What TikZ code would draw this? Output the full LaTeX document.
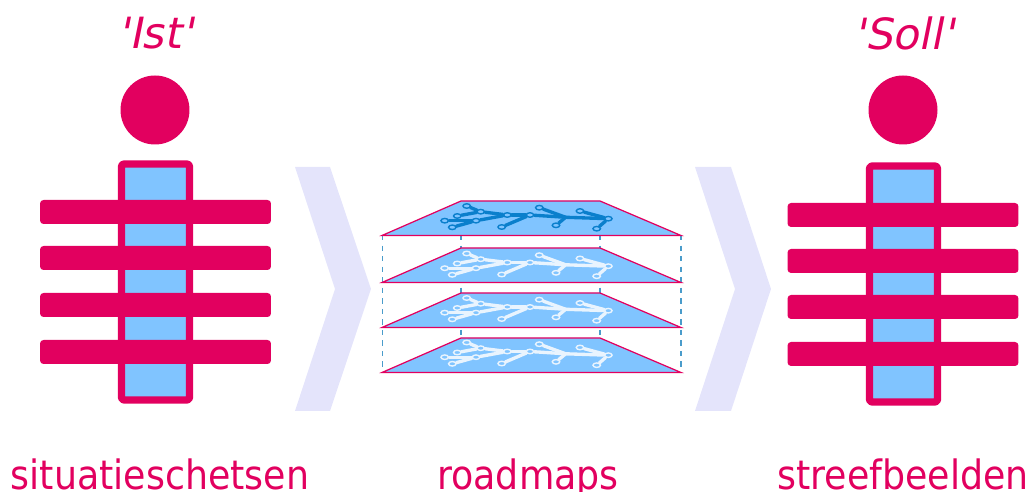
\documentclass[tikz,border=0pt]{standalone}
\usepackage{fontspec}
\usetikzlibrary{shapes.geometric}
\setmainfont{DejaVu Sans}
\newfontfamily\titlefont{DejaVu Sans}[FakeSlant=0.2]
\newfontfamily\labelfont{DejaVu Sans}[FakeStretch=0.9]

\definecolor{accent}{HTML}{E2005F}
\definecolor{lightblue}{HTML}{80C4FF}
\definecolor{treeblue}{HTML}{0A7FCC}
\definecolor{treewhite}{HTML}{E9F4FE}
\definecolor{chevron}{HTML}{E4E4FB}
\definecolor{guide}{HTML}{4A9CCB}

% branching tree on a plane: #1 = vertical shift, #2 = prefix, #3 = colour
\newcommand{\roadtree}[3]{
  \begin{scope}[yshift=-#1*0.02cm]
    \foreach \name/\px/\py in {a/608.3/218.7, b/596.7/228.7, c/580/211, e/539.3/207.7,
        f/556/225.3, g/530/215, h/507.3/215, i/501.7/227, j/480.7/211.7, k/466.7/206,
        l/457.3/216, m/476/220.7, n/444.7/220.7, o/452.3/227.3}
      \node[treept, draw=#3] (#2\name) at (\px,\py) {};
    \coordinate (#2d) at (565.7,217.3);
    \foreach \from/\to in {a/d, d/g, g/h, h/j, j/l, j/k, h/m, m/n, m/o, g/i, d/e, d/f, a/c, a/b}
      \draw[treeline, draw=#3] (#2\from) -- (#2\to);
  \end{scope}
}

\begin{document}
\begin{tikzpicture}[
    x=0.02cm, y=-0.02cm,
    head/.style={circle, fill=accent, minimum size=1.38cm, inner sep=0pt},
    body/.style={rectangle, rounded corners=1.5pt, line join=round, draw=accent, line width=4.2pt, fill=lightblue, minimum width=1.36cm, minimum height=4.72cm, inner sep=0pt},
    bar/.style={rectangle, rounded corners=2pt, fill=accent, minimum width=4.62cm, minimum height=0.48cm, inner sep=0pt},
    plane/.style={draw=accent, line width=0.7pt, fill=lightblue},
    treeline/.style={line width=1.9pt, line cap=round},
    treept/.style={ellipse, draw, line width=0.8pt, fill=lightblue, minimum width=0.15cm, minimum height=0.09cm, inner sep=0pt},
    guideline/.style={draw=guide, dashed, line width=0.6pt},
    title/.style={accent, font=\fontsize{24.5}{30}\titlefont},
    label/.style={accent, font=\fontsize{23}{26}\labelfont}
]

    \useasboundingbox (0,0) rectangle (1032,492);

    % Left figure
    \node[head] (headL) at (155,110) {};
    \node[body] (bodyL) at (155.5,282) {};
    \foreach \name/\py in {1/212, 2/258, 3/305, 4/352}
      \node[bar] (barL\name) at (155.5,\py) {};

    % Right figure
    \node[head] (headR) at (903,110) {};
    \node[body] (bodyR) at (903.5,284) {};
    \foreach \name/\py in {1/215, 2/261, 3/307, 4/354}
      \node[bar] (barR\name) at (903,\py) {};

    % Chevrons
    \fill[chevron] (295,167) -- (330,167) -- (371,289) -- (330,411) -- (295,411) -- (335,289) -- cycle;
    \fill[chevron] (695,167) -- (731,167) -- (771,289) -- (731,411) -- (695,411) -- (735,289) -- cycle;

    % Dashed guides between the planes
    \foreach \px in {382.5,461,600,681}
      \draw[guideline] (\px,235) -- (\px,372);

    % Stacked planes
    \foreach \py in {201,248,293,338}
      \draw[plane] (382,\py+34.5) -- (461,\py) -- (600,\py) -- (681,\py+34.5) -- cycle;

    % Trees on the planes
    \roadtree{0}{p}{treeblue}
    \roadtree{47.5}{q}{treewhite}
    \roadtree{92}{r}{treewhite}
    \roadtree{136.5}{s}{treewhite}

    % Texts
    \node[title] (ist) at (155,33) {'Ist'};
    \node[title] (soll) at (904,33) {'Soll'};
    \node[label, anchor=base] (sit) at (160,490) {situatieschetsen};
    \node[label, anchor=base] (road) at (528,490) {roadmaps};
    \node[label, anchor=base] (streef) at (903,490) {streefbeelden};

\end{tikzpicture}
\end{document}
